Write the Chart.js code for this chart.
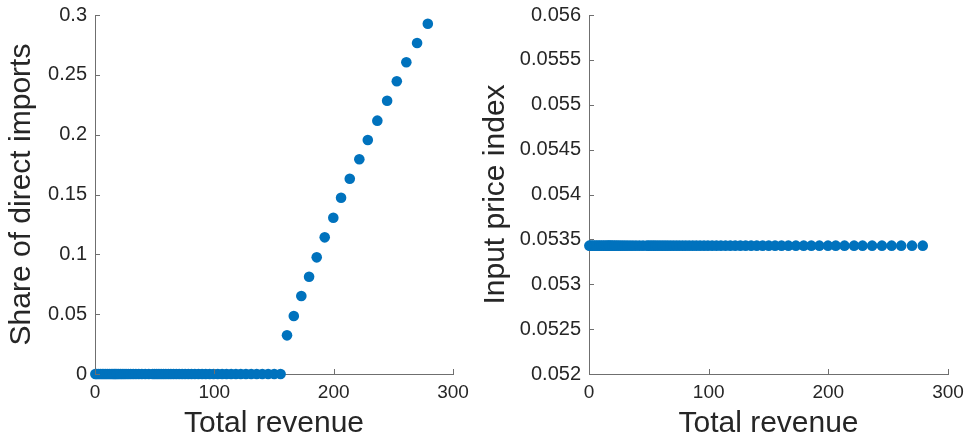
<!DOCTYPE html>
<html>
<head>
<meta charset="utf-8">
<script src="https://cdn.jsdelivr.net/npm/chart.js@4"></script>
<style>
  html, body { margin: 0; padding: 0; background: #fff; }
  #wrap { position: relative; width: 966px; height: 442px; }
  canvas { position: absolute; top: 0; }
  #share { left: 0; }
  #price { left: 474px; }
</style>
</head>
<body>
<div id="wrap">
  <canvas id="share" width="474" height="442"></canvas>
  <canvas id="price" width="492" height="442"></canvas>
</div>
<script>
// total revenue grid (same for both panels)
const revenue = [
  0.3, 1.5, 3, 4.5, 6, 7.5, 9, 10.5, 12, 13.5,
  15, 16.1, 17.2, 18.4, 19.7, 21.2, 22.7, 24.3, 26.0, 27.9,
  29.9, 32.0, 34.3, 36.7, 39.3, 42.1, 45.1, 48.3, 50.0, 51.8,
  53.6, 55.4, 57.4, 59.4, 61.5, 63.6, 65.8, 68.1, 70.5, 73.0,
  75.5, 78.2, 80.9, 83.7, 86.7, 89.7, 92.8, 96.1, 99.4, 102.9,
  106.5, 110.2, 114.1, 118.1, 122.2, 126.5, 130.9, 135.5, 140.2, 145.1,
  150.2, 155.5,
  160.9, 166.6, 172.9, 179.4, 185.8, 192.5, 199.7, 206.2, 213.5, 221.5,
  228.6, 236.6, 244.8, 252.9, 260.9, 269.9, 278.9
];

const shareImports = [
  0, 0, 0, 0, 0, 0, 0, 0, 0, 0,
  0, 0, 0, 0, 0, 0, 0, 0, 0, 0,
  0, 0, 0, 0, 0, 0, 0, 0, 0, 0,
  0, 0, 0, 0, 0, 0, 0, 0, 0, 0,
  0, 0, 0, 0, 0, 0, 0, 0, 0, 0,
  0, 0, 0, 0, 0, 0, 0, 0, 0, 0,
  0, 0,
  0.0323, 0.0485, 0.0652, 0.0813, 0.0975, 0.1142, 0.1306, 0.1473, 0.1632, 0.1794,
  0.1955, 0.2117, 0.2284, 0.2446, 0.2605, 0.2766, 0.2927
];

const priceIndex = [
  0.05343, 0.05343, 0.05343, 0.05343, 0.05343, 0.05343, 0.05343, 0.05343, 0.05343, 0.05343,
  0.05343, 0.05343, 0.05343, 0.05343, 0.05343, 0.05343, 0.05343, 0.05343, 0.05343, 0.05343,
  0.05343, 0.05343, 0.05343, 0.05343, 0.05343, 0.05343, 0.05343, 0.05343, 0.05343, 0.05343,
  0.05343, 0.05343, 0.05343, 0.05343, 0.05343, 0.05343, 0.05343, 0.05343, 0.05343, 0.05343,
  0.05343, 0.05343, 0.05343, 0.05343, 0.05343, 0.05343, 0.05343, 0.05343, 0.05343, 0.05343,
  0.05343, 0.05343, 0.05343, 0.05343, 0.05343, 0.05343, 0.05343, 0.05343, 0.05343, 0.05343,
  0.05343, 0.05343,
  0.05343, 0.05343, 0.05343, 0.05343, 0.05343, 0.05343, 0.05343, 0.05343, 0.05343, 0.05343,
  0.05343, 0.05343, 0.05343, 0.05343, 0.05343, 0.05343, 0.05343
];

const xTicks = [0, 100, 200, 300];
const xTickLabels = ['0', '100', '200', '300'];
const shareTicks = [0, 0.05, 0.1, 0.15, 0.2, 0.25, 0.3];
const shareTickLabels = ['0', '0.05', '0.1', '0.15', '0.2', '0.25', '0.3'];
const priceTicks = [0.052, 0.0525, 0.053, 0.0535, 0.054, 0.0545, 0.055, 0.0555, 0.056];
const priceTickLabels = ['0.052', '0.0525', '0.053', '0.0535', '0.054', '0.0545', '0.055', '0.0555', '0.056'];

const AXIS = '#6f6f6f';
const TEXT = '#262626';
const BLUE = '#0072BD';
const FONT = "'Liberation Sans', Arial, Helvetica, sans-serif";

// matlab-style ticks pointing into the plot
const innerTicks = {
    id: 'innerTicks',
    afterDraw(chart) {
        const ctx = chart.ctx;
        const { x, y } = chart.scales;
        ctx.save();
        ctx.strokeStyle = AXIS;
        ctx.lineWidth = 1;
        ctx.beginPath();
        x.ticks.forEach(t => {
            const px = Math.round(x.getPixelForValue(t.value)) + 0.5;
            ctx.moveTo(px, y.bottom);
            ctx.lineTo(px, y.bottom - 5);
        });
        y.ticks.forEach(t => {
            const py = Math.round(y.getPixelForValue(t.value)) + 0.5;
            ctx.moveTo(x.left, py);
            ctx.lineTo(x.left + 5, py);
        });
        ctx.stroke();
        ctx.restore();
    }
};

const makeChart = (id, yValues, yTicks, yLabels, yTitle, yWidth, padRight) => {
    const points = revenue.map((r, i) => ({ x: r, y: yValues[i] }));
    return new Chart(document.getElementById(id), {
        type: 'scatter',
        data: {
            datasets: [{
                data: points,
                backgroundColor: BLUE,
                borderColor: BLUE,
                borderWidth: 0,
                pointRadius: 5.3,
                pointHoverRadius: 5.3,
                clip: false,
            }]
        },
        options: {
            responsive: false,
            animation: false,
            devicePixelRatio: 1,
            layout: { padding: { top: 15, right: padRight, left: 0, bottom: 0 } },
            plugins: { legend: { display: false }, tooltip: { enabled: false } },
            scales: {
                x: {
                    type: 'linear',
                    min: 0,
                    max: 300,
                    afterBuildTicks: (scale) => { scale.ticks = xTicks.map(v => ({ value: v })); },
                    afterFit: (scale) => {
                        scale.height = 68;
                        scale.paddingLeft = 0;
                        scale.paddingRight = 0;
                    },
                    grid: { drawOnChartArea: false, drawTicks: false },
                    border: { display: true, color: AXIS, width: 1 },
                    ticks: {
                        color: TEXT,
                        font: { family: FONT, size: 19 },
                        padding: 7,
                        maxRotation: 0,
                        callback: (v, i) => xTickLabels[i],
                    },
                    title: {
                        display: true,
                        text: 'Total revenue',
                        color: TEXT,
                        font: { family: FONT, size: 30 },
                        padding: { top: 0, bottom: 0 },
                    },
                },
                y: {
                    type: 'linear',
                    min: yTicks[0],
                    max: yTicks[yTicks.length - 1],
                    afterBuildTicks: (scale) => { scale.ticks = yTicks.map(v => ({ value: v })); },
                    afterFit: (scale) => {
                        scale.width = yWidth;
                        scale.paddingTop = 0;
                        scale.paddingBottom = 0;
                    },
                    grid: { drawOnChartArea: false, drawTicks: false },
                    border: { display: true, color: AXIS, width: 1 },
                    ticks: {
                        color: TEXT,
                        font: { family: FONT, size: 20 },
                        padding: 8,
                        callback: (v, i) => yLabels[i],
                    },
                    title: {
                        display: true,
                        text: yTitle,
                        color: TEXT,
                        font: { family: FONT, size: 30 },
                        padding: { top: 4, bottom: 0 },
                    },
                },
            },
        },
        plugins: [innerTicks],
    });
};

makeChart('share', shareImports, shareTicks, shareTickLabels, 'Share of direct imports', 95, 21);
makeChart('price', priceIndex, priceTicks, priceTickLabels, 'Input price index', 115, 18);
</script>
</body>
</html>
